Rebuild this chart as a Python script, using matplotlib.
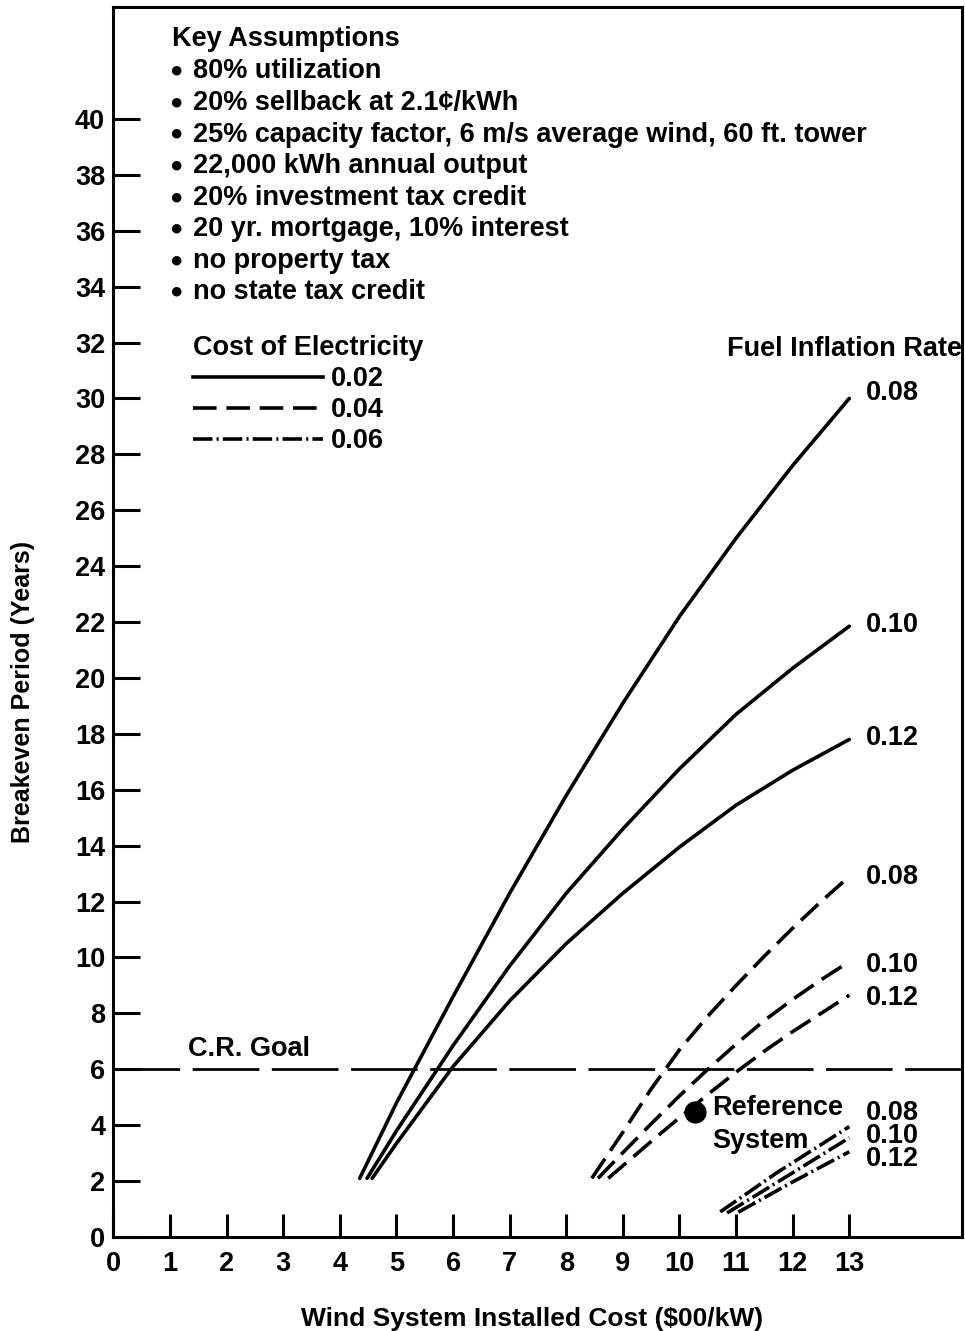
"""Breakeven period vs installed cost for a small wind system."""
import matplotlib
matplotlib.use("Agg")
import matplotlib.pyplot as plt
from matplotlib.lines import Line2D

plt.rcParams["font.family"] = ["Liberation Sans", "DejaVu Sans"]
plt.rcParams["font.weight"] = "bold"
plt.rcParams["lines.scale_dashes"] = False

# cost of electricity 0.02 $/kWh (solid), fuel inflation 0.08 / 0.10 / 0.12
c02_i08_x = [4.35, 5.0, 6.0, 7.0, 8.0, 9.0, 10.0, 11.0, 12.0, 13.0]
c02_i08_y = [2.1, 4.8, 8.6, 12.3, 15.8, 19.1, 22.2, 25.0, 27.6, 30.0]
c02_i10_x = [4.48, 5.0, 6.0, 7.0, 8.0, 9.0, 10.0, 11.0, 12.0, 13.0]
c02_i10_y = [2.1, 3.8, 6.85, 9.7, 12.3, 14.6, 16.75, 18.7, 20.35, 21.85]
c02_i12_x = [4.57, 5.0, 6.0, 7.0, 8.0, 9.0, 10.0, 11.0, 12.0, 13.0]
c02_i12_y = [2.1, 3.35, 6.1, 8.45, 10.5, 12.3, 13.95, 15.45, 16.7, 17.8]

# cost of electricity 0.04 $/kWh (dashed)
c04_i08_x = [8.45, 9.0, 9.5, 10.0, 10.5, 11.0, 11.5, 12.0, 12.5, 13.0]
c04_i08_y = [2.1, 3.75, 5.3, 6.7, 7.9, 9.0, 10.05, 11.05, 12.0, 12.9]
c04_i10_x = [8.56, 9.0, 9.5, 10.0, 10.5, 11.0, 11.5, 12.0, 12.5, 13.0]
c04_i10_y = [2.1, 3.02, 4.05, 5.05, 6.0, 6.9, 7.75, 8.5, 9.2, 9.85]
c04_i12_x = [8.74, 9.0, 9.5, 10.0, 10.5, 11.0, 11.5, 12.0, 12.5, 13.0]
c04_i12_y = [2.1, 2.55, 3.42, 4.27, 5.1, 5.9, 6.65, 7.35, 8.0, 8.65]

# cost of electricity 0.06 $/kWh (dash-dot)
c06_i08_x = [10.72, 11.72, 13.0]
c06_i08_y = [0.9, 2.3, 3.95]
c06_i10_x = [10.84, 11.84, 13.0]
c06_i10_y = [0.86, 2.1, 3.55]
c06_i12_x = [11.04, 11.98, 13.0]
c06_i12_y = [0.89, 1.95, 3.05]

rates = ["0.08", "0.10", "0.12"]
costs = ["0.02", "0.04", "0.06"]
goal_years = 6
ref_cost, ref_years = 10.27, 4.47

assumptions = [
    "80% utilization",
    "20% sellback at 2.1\u00a2/kWh",
    "25% capacity factor, 6 m/s average wind, 60 ft. tower",
    "22,000 kWh annual output",
    "20% investment tax credit",
    "20 yr. mortgage, 10% interest",
    "no property tax",
    "no state tax credit",
]

FS = 19.5
LW = 2.6
styles = {
    "0.02": "-",
    "0.04": (0, (17, 7)),
    "0.06": (0, (14, 3, 1.5, 3)),
}

fig = plt.figure(figsize=(9.65, 13.31), dpi=100)
ax = fig.add_axes([0.1176, 0.0706, 0.8798, 0.9241])

groups = [
    ("0.02", [(c02_i08_x, c02_i08_y), (c02_i10_x, c02_i10_y),
              (c02_i12_x, c02_i12_y)], [30.2, 21.9, 17.85]),
    ("0.04", [(c04_i08_x, c04_i08_y), (c04_i10_x, c04_i10_y),
              (c04_i12_x, c04_i12_y)], [12.88, 9.73, 8.55]),
    ("0.06", [(c06_i08_x, c06_i08_y), (c06_i10_x, c06_i10_y),
              (c06_i12_x, c06_i12_y)], None),
]
for cost, curves, label_y in groups:
    for i, ((xs, ys), rate) in enumerate(zip(curves, rates)):
        ax.plot(xs, ys, color="black", lw=LW, ls=styles[cost],
                solid_capstyle="round", solid_joinstyle="round")
        if label_y is not None:
            ax.text(13.3, label_y[i], rate, fontsize=FS, ha="left",
                    va="center")
# the dash-dot group is labelled as one tight stack
ax.text(13.3, 3.62, "\n".join(rates), fontsize=FS, ha="left", va="center",
        linespacing=0.86)

# C.R. goal
ax.axhline(goal_years, color="black", lw=2.0, ls=(0, (48, 9)))
ax.text(1.32, 6.73, "C.R. Goal", fontsize=FS, ha="left", va="center")

# reference system
ax.plot([ref_cost], [ref_years], "o", color="black", ms=15)
ax.text(10.57, 4.6, "Reference", fontsize=FS, ha="left", va="center")
ax.text(10.57, 3.45, "System", fontsize=FS, ha="left", va="center")

ax.text(10.84, 31.77, "Fuel Inflation Rate", fontsize=FS, ha="left",
        va="center")

# key assumptions block
ax.text(1.03, 42.85, "Key Assumptions", fontsize=FS, ha="left", va="center")
for i, line in enumerate(assumptions):
    y = 41.7 - i * 1.13
    ax.text(0.98, y, "\u25cf", fontsize=16, ha="left", va="center")
    ax.text(1.40, y, line, fontsize=FS, ha="left", va="center")

handles = [Line2D([], [], color="black", lw=LW, ls=styles[c]) for c in costs]
leg = ax.legend(handles, costs, title="Cost of Electricity", fontsize=FS,
                title_fontsize=FS, loc="upper left",
                bbox_to_anchor=(0.0936, 0.733), frameon=False,
                handlelength=4.8, handletextpad=0.3, labelspacing=0.18,
                borderpad=0, borderaxespad=0, alignment="left")
leg.get_title().set_fontweight("bold")

ax.set_xlim(0, 15)
ax.set_ylim(0, 44)
ax.set_xticks(range(0, 14))
ax.set_yticks(range(0, 41, 2))
ax.tick_params(axis="x", direction="in", length=16.5, width=2.2,
               labelsize=FS, pad=10)
ax.tick_params(axis="y", direction="in", length=19.5, width=2.2,
               labelsize=FS, pad=6)
for sp in ax.spines.values():
    sp.set_linewidth(2.2)

ax.set_xlabel("Wind System Installed Cost ($00/kW)", fontsize=19,
              fontweight="bold")
ax.set_ylabel("Breakeven Period (Years)", fontsize=18, fontweight="bold")
ax.xaxis.set_label_coords(0.493, -0.057)
ax.yaxis.set_label_coords(-0.092, 0.443)

fig.savefig("out.png", dpi=100)
